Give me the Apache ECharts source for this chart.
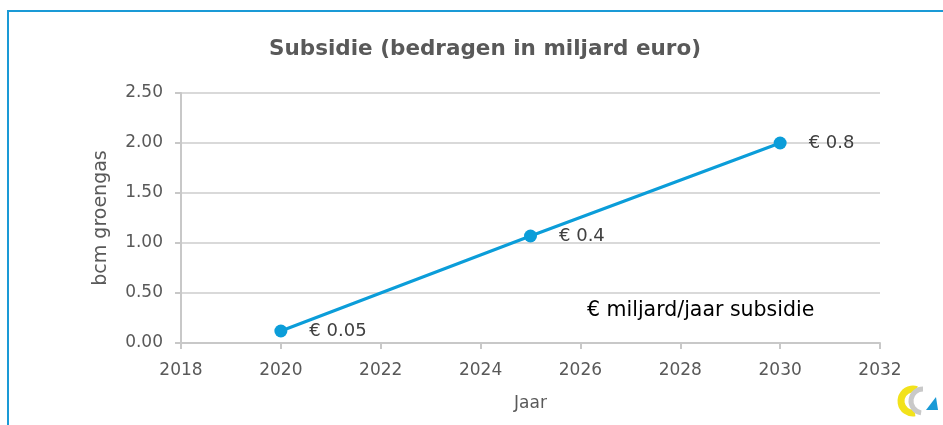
<!DOCTYPE html>
<html>
<head>
<meta charset="utf-8">
<script src="https://cdn.jsdelivr.net/npm/echarts@6/dist/echarts.min.js"></script>
<style>
  html, body { margin: 0; padding: 0; background: #fff; }
  #chart { width: 943px; height: 425px; }
</style>
</head>
<body>
<div id="chart"></div>
<script>
// data
const years = [2020, 2025, 2030]
const bcm = [0.12, 1.07, 2.0]
const subsidyLabels = ['€ 0.05', '€ 0.4', '€ 0.8']

const FONT = '"DejaVu Sans", sans-serif'
const GREY = '#595959'
const BLUE = '#0b9dd9'

const chart = echarts.init(document.getElementById('chart'), null, { renderer: 'canvas' })

chart.setOption({
  animation: false,
  title: {
    text: 'Subsidie (bedragen in miljard euro)',
    left: 480,
    textAlign: 'center',
    top: 33,
    textStyle: { fontFamily: FONT, fontSize: 21.5, fontWeight: 'bold', color: GREY },
  },
  grid: { left: 181, right: 63, top: 93, bottom: 82 },
  xAxis: {
    type: 'value',
    min: 2018,
    max: 2032,
    interval: 2,
    name: 'Jaar',
    nameLocation: 'middle',
    nameGap: 52,
    nameTextStyle: { fontFamily: FONT, fontSize: 17, color: GREY },
    axisLine: { lineStyle: { color: '#c8c8c8', width: 2 } },
    axisTick: { show: true, length: 6, lineStyle: { color: '#c8c8c8', width: 2 } },
    axisLabel: { fontFamily: FONT, fontSize: 17, color: GREY, margin: 19, formatter: v => String(v) },
    splitLine: { show: false },
  },
  yAxis: {
    type: 'value',
    min: 0,
    max: 2.5,
    interval: 0.5,
    name: 'bcm groengas',
    nameLocation: 'middle',
    nameGap: 70,
    nameTextStyle: { fontFamily: FONT, fontSize: 19, color: GREY },
    axisLine: { show: true, lineStyle: { color: '#c8c8c8', width: 2 } },
    axisTick: { show: true, length: 6, lineStyle: { color: '#c8c8c8', width: 2 } },
    axisLabel: {
      fontFamily: FONT, fontSize: 17, color: GREY, margin: 18,
      formatter: v => v.toFixed(2),
    },
    splitLine: { lineStyle: { color: '#d9d9d9', width: 2 } },
  },
  series: [{
    type: 'line',
    data: years.map((y, i) => [y, bcm[i]]),
    symbol: 'circle',
    symbolSize: 13,
    lineStyle: { color: BLUE, width: 3 },
    itemStyle: { color: BLUE },
    label: {
      show: true,
      position: 'right',
      distance: 22,
      fontFamily: FONT,
      fontSize: 18,
      color: '#404040',
      formatter: p => subsidyLabels[p.dataIndex],
    },
  }],
  graphic: [
    {
      type: 'rect',
      shape: { x: 8, y: 11, width: 1000, height: 500 },
      style: { fill: 'none', stroke: '#1a9ad6', lineWidth: 2 },
      silent: true,
    },
    {
      type: 'text',
      left: 587,
      top: 300,
      style: {
        text: '€ miljard/jaar subsidie',
        fontFamily: FONT, fontSize: 20.5, fill: '#000',
      },
    },
    // small logo, bottom right
    {
      type: 'arc',
      shape: { cx: 913, cy: 401, r: 12, startAngle: Math.PI * 0.45, endAngle: Math.PI * 1.6 },
      style: { stroke: '#f2e21b', lineWidth: 7, fill: 'none' },
      silent: true,
    },
    {
      type: 'arc',
      shape: { cx: 923, cy: 401, r: 12, startAngle: Math.PI * 0.55, endAngle: Math.PI * 1.5 },
      style: { stroke: '#c9c9c9', lineWidth: 5, fill: 'none' },
      silent: true,
    },
    {
      type: 'polygon',
      shape: { points: [[926, 410], [938, 410], [936, 397]] },
      style: { fill: '#1a9ad6' },
      silent: true,
    },
  ],
})
</script>
</body>
</html>
